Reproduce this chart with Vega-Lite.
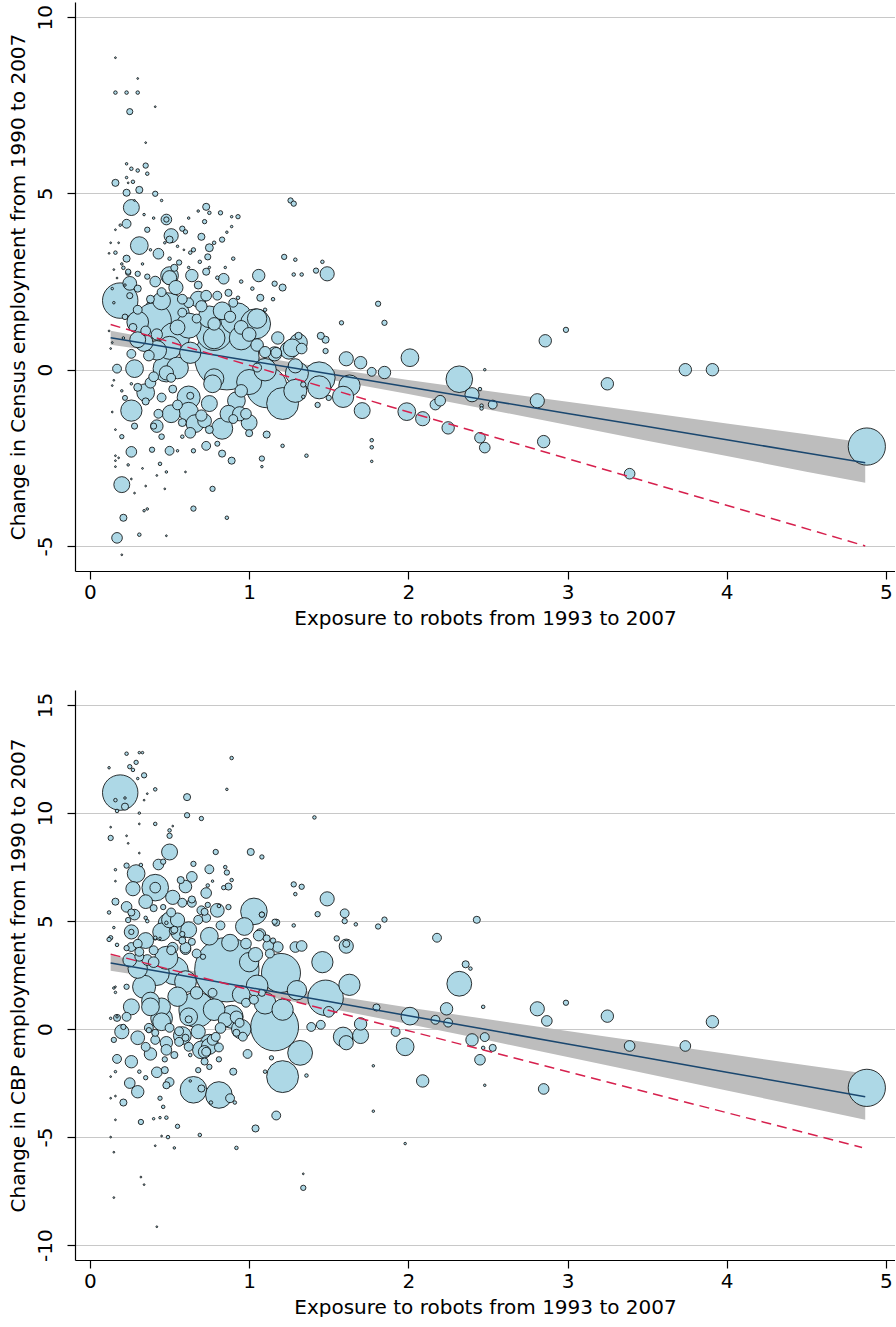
{
"$schema":"https://vega.github.io/schema/vega-lite/v6.json",
"background":"white",
"padding":{"left":8,"top":2,"right":0,"bottom":0},
"spacing":119,
"bounds":"flush",
"config":{
 "view":{"stroke":null},
 "font":"DejaVu Sans",
 "axis":{"domainColor":"black","domainWidth":1.2,"tickColor":"black","tickWidth":1.2,"tickSize":8,
  "labelFont":"DejaVu Sans","labelFontSize":20,"labelColor":"black","labelOverlap":false,"labelFlush":false,
  "titleFont":"DejaVu Sans","titleFontSize":20,"titleFontWeight":"normal","titleColor":"black",
  "gridColor":"#c8c8c8","gridWidth":1.2},
 "axisX":{"grid":false,"labelPadding":3,"titlePadding":6,"format":"d"},
 "axisY":{"grid":true,"labelAngle":-90,"labelAlign":"center","labelBaseline":"bottom","labelPadding":12,"titlePadding":7}
},
"datasets":{
"census":[
{"x":0.86,"y":0.34,"w":1320},{"x":0.19,"y":1.96,"w":400},{"x":0.48,"y":1.53,"w":676},{"x":0.40,"y":1.39,"w":400},{"x":0.53,"y":0.91,"w":289},{"x":0.63,"y":0.48,"w":144},{"x":1.11,"y":-0.5,"w":529},{"x":1.21,"y":-0.96,"w":324},{"x":0.92,"y":1.45,"w":324},{"x":0.83,"y":1.67,"w":100},{"x":1.04,"y":1.3,"w":289},{"x":1.16,"y":0.45,"w":64},{"x":1.29,"y":0.11,"w":64},{"x":0.62,"y":-0.79,"w":169},{"x":0.75,"y":-0.96,"w":81},{"x":0.63,"y":-0.74,"w":16},{"x":0.83,"y":-1.67,"w":144},{"x":0.28,"y":0.03,"w":100},{"x":0.26,"y":-1.16,"w":144},{"x":0.20,"y":-3.26,"w":81},{"x":0.17,"y":-4.77,"w":36},{"x":0.21,"y":-4.2,"w":16},{"x":0.17,"y":0.03,"w":25},{"x":0.31,"y":3.52,"w":100},{"x":0.26,"y":4.6,"w":81},{"x":0.25,"y":7.32,"w":12},{"x":0.16,"y":5.3,"w":16},{"x":0.48,"y":4.26,"w":36},{"x":0.48,"y":4.26,"w":9},{"x":0.51,"y":3.8,"w":64},{"x":0.43,"y":3.29,"w":36},{"x":0.23,"y":4.14,"w":25},{"x":0.41,"y":2.5,"w":36},{"x":0.50,"y":2.61,"w":64},{"x":0.54,"y":2.33,"w":64},{"x":0.64,"y":2.67,"w":49},{"x":0.84,"y":2.58,"w":36},{"x":1.06,"y":2.67,"w":49},{"x":1.49,"y":2.72,"w":64},{"x":0.73,"y":4.62,"w":16},{"x":0.70,"y":3.77,"w":16},{"x":0.75,"y":3.46,"w":20},{"x":0.74,"y":3.2,"w":12},{"x":1.26,"y":4.8,"w":9},{"x":1.28,"y":4.71,"w":9},{"x":0.23,"y":3.15,"w":16},{"x":0.24,"y":2.75,"w":9},{"x":0.30,"y":2.72,"w":9},{"x":0.36,"y":2.64,"w":9},{"x":0.87,"y":2.18,"w":16},{"x":1.07,"y":2.04,"w":16},{"x":1.21,"y":2.33,"w":16},{"x":1.16,"y":2.44,"w":9},{"x":1.22,"y":3.2,"w":9},{"x":1.29,"y":3.12,"w":4},{"x":1.42,"y":2.81,"w":9},{"x":1.46,"y":3.06,"w":4},{"x":1.28,"y":2.7,"w":4},{"x":1.33,"y":2.7,"w":4},{"x":0.31,"y":5.1,"w":16},{"x":0.23,"y":5.02,"w":16},{"x":0.41,"y":4.99,"w":9},{"x":0.35,"y":5.79,"w":9},{"x":0.26,"y":5.7,"w":4},{"x":0.30,"y":5.65,"w":4},{"x":0.36,"y":5.56,"w":4},{"x":0.23,"y":5.84,"w":2},{"x":0.27,"y":5.33,"w":4},{"x":0.23,"y":5.45,"w":2},{"x":0.16,"y":7.86,"w":4},{"x":0.23,"y":7.86,"w":4},{"x":0.30,"y":7.86,"w":4},{"x":0.16,"y":8.85,"w":1},{"x":0.30,"y":8.26,"w":1},{"x":0.41,"y":7.46,"w":1},{"x":0.35,"y":6.44,"w":1},{"x":0.36,"y":3.97,"w":9},{"x":0.58,"y":4.0,"w":9},{"x":0.60,"y":3.91,"w":6},{"x":0.50,"y":3.69,"w":16},{"x":0.75,"y":4.45,"w":4},{"x":0.72,"y":4.2,"w":6},{"x":0.82,"y":4.45,"w":6},{"x":0.93,"y":4.34,"w":6},{"x":0.89,"y":4.34,"w":2},{"x":0.89,"y":4.06,"w":2},{"x":0.83,"y":3.69,"w":9},{"x":0.65,"y":3.4,"w":6},{"x":0.63,"y":3.32,"w":4},{"x":0.59,"y":3.4,"w":1},{"x":0.50,"y":3.15,"w":4},{"x":0.90,"y":3.15,"w":4},{"x":0.69,"y":3.06,"w":4},{"x":0.73,"y":2.78,"w":16},{"x":0.80,"y":2.61,"w":4},{"x":0.93,"y":2.04,"w":4},{"x":0.16,"y":3.32,"w":4},{"x":0.13,"y":3.6,"w":1},{"x":0.15,"y":2.84,"w":1},{"x":0.21,"y":2.89,"w":4},{"x":0.24,"y":2.78,"w":9},{"x":0.53,"y":2.89,"w":16},{"x":0.56,"y":3.04,"w":9},{"x":0.16,"y":3.97,"w":1},{"x":0.73,"y":2.1,"w":36},{"x":0.58,"y":1.62,"w":25},{"x":0.67,"y":1.45,"w":25},{"x":1.31,"y":0.96,"w":16},{"x":1.33,"y":0.6,"w":36},{"x":1.17,"y":0.48,"w":36},{"x":0.37,"y":0.4,"w":36},{"x":0.26,"y":0.45,"w":25},{"x":0.38,"y":-0.37,"w":36},{"x":0.48,"y":-0.09,"w":64},{"x":0.45,"y":-0.79,"w":25},{"x":0.51,"y":-0.23,"w":25},{"x":0.92,"y":-0.88,"w":100},{"x":0.98,"y":-1.25,"w":36},{"x":0.43,"y":-1.25,"w":25},{"x":1.05,"y":0.06,"w":25},{"x":0.51,"y":-1.25,"w":100},{"x":0.73,"y":-2.16,"w":25},{"x":0.63,"y":-1.79,"w":36},{"x":0.50,"y":-2.3,"w":25},{"x":0.26,"y":-2.33,"w":36},{"x":0.39,"y":-2.27,"w":9},{"x":0.44,"y":-2.67,"w":4},{"x":0.89,"y":-2.58,"w":16},{"x":0.83,"y":-2.38,"w":16},{"x":1.11,"y":-1.84,"w":16},{"x":1.21,"y":-2.16,"w":4},{"x":1.08,"y":-2.52,"w":9},{"x":0.77,"y":-3.38,"w":9},{"x":0.65,"y":-3.94,"w":9},{"x":0.86,"y":-4.2,"w":4},{"x":0.31,"y":-4.68,"w":4},{"x":0.48,"y":-4.71,"w":1},{"x":0.20,"y":-5.25,"w":1},{"x":0.16,"y":-2.75,"w":1},{"x":0.16,"y":-2.58,"w":1},{"x":0.16,"y":-2.44,"w":1},{"x":0.24,"y":-2.7,"w":2},{"x":0.26,"y":-3.1,"w":1},{"x":0.28,"y":-3.5,"w":1},{"x":0.34,"y":-4.0,"w":2},{"x":0.36,"y":-3.95,"w":2},{"x":0.47,"y":-3.38,"w":1},{"x":0.14,"y":0.77,"w":1},{"x":0.14,"y":-0.45,"w":1},
{"x":1.81,"y":1.87,"w":9},{"x":1.85,"y":1.33,"w":9},{"x":1.58,"y":1.33,"w":6},{"x":2.01,"y":0.34,"w":100},{"x":2.86,"y":0.82,"w":49},{"x":2.99,"y":1.13,"w":9},{"x":2.48,"y":0.0,"w":2},{"x":2.32,"y":-0.27,"w":225},{"x":2.40,"y":-0.71,"w":64},{"x":1.99,"y":-1.19,"w":100},{"x":2.09,"y":-1.39,"w":64},{"x":2.17,"y":-0.99,"w":36},{"x":2.20,"y":-0.88,"w":36},{"x":2.25,"y":-1.65,"w":49},{"x":2.45,"y":-1.93,"w":36},{"x":2.48,"y":-2.21,"w":36},{"x":2.46,"y":-1.02,"w":4},{"x":2.46,"y":-1.1,"w":4},{"x":2.53,"y":-0.99,"w":25},{"x":2.45,"y":-0.55,"w":4},{"x":2.81,"y":-0.88,"w":64},{"x":2.85,"y":-2.04,"w":49},{"x":3.39,"y":-2.95,"w":36},{"x":3.25,"y":-0.40,"w":49},{"x":3.74,"y":0.0,"w":49},{"x":3.91,"y":0.0,"w":49},{"x":4.88,"y":-2.18,"w":441},{"x":1.70,"y":0.2,"w":49},{"x":1.61,"y":0.31,"w":64},{"x":1.71,"y":-1.16,"w":81},{"x":1.63,"y":-0.45,"w":144},{"x":1.59,"y":-0.77,"w":144},{"x":1.44,"y":-0.23,"w":324},{"x":1.30,"y":-0.1,"w":169},{"x":1.77,"y":-0.06,"w":25},{"x":1.85,"y":-0.08,"w":49},{"x":1.77,"y":-2.0,"w":4},{"x":1.77,"y":-2.2,"w":4},{"x":1.77,"y":-2.6,"w":2},{"x":1.48,"y":0.85,"w":16},{"x":1.45,"y":0.96,"w":16},{"x":1.48,"y":0.53,"w":9},{"x":1.50,"y":-0.8,"w":9},{"x":1.43,"y":-1.0,"w":9},{"x":1.34,"y":-0.42,"w":9},{"x":1.34,"y":-0.77,"w":4},{"x":1.36,"y":-2.44,"w":4},{"x":1.08,"y":-2.75,"w":2},
{"x":1.18,"y":0.9,"w":49},{"x":0.62,"y":1.9,"w":30},{"x":0.70,"y":1.8,"w":40},{"x":0.78,"y":1.3,"w":50},{"x":0.90,"y":1.9,"w":25},{"x":0.95,"y":1.2,"w":60},{"x":0.55,"y":1.2,"w":70},{"x":0.42,"y":1.0,"w":40},{"x":0.35,"y":1.1,"w":30},{"x":0.30,"y":1.7,"w":25},{"x":0.27,"y":1.2,"w":20},{"x":0.22,"y":1.5,"w":10},{"x":0.25,"y":2.1,"w":12},{"x":0.30,"y":2.3,"w":16},{"x":0.38,"y":2.0,"w":20},{"x":0.45,"y":2.2,"w":25},{"x":0.58,"y":2.0,"w":30},{"x":0.68,"y":2.4,"w":20},{"x":0.80,"y":2.1,"w":25},{"x":0.88,"y":1.5,"w":40},{"x":1.00,"y":1.0,"w":60},{"x":1.05,"y":0.7,"w":50},{"x":1.10,"y":0.5,"w":40},{"x":0.30,"y":-0.5,"w":20},{"x":0.35,"y":-0.9,"w":16},{"x":0.40,"y":-1.6,"w":12},{"x":0.55,"y":-1.0,"w":30},{"x":0.58,"y":-1.5,"w":20},{"x":0.70,"y":-1.3,"w":40},{"x":0.75,"y":-1.7,"w":20},{"x":0.90,"y":-1.4,"w":25},{"x":0.95,"y":-0.6,"w":50},{"x":1.00,"y":-1.8,"w":16},{"x":0.28,"y":-1.6,"w":12},{"x":0.22,"y":-0.8,"w":8},{"x":0.20,"y":-1.9,"w":6},{"x":0.45,"y":-1.9,"w":10},{"x":0.65,"y":-2.3,"w":6},{"x":0.80,"y":-2.1,"w":8},{"x":0.52,"y":-0.55,"w":20},{"x":0.40,"y":-0.2,"w":30},
{"x":0.30,"y":1.35,"w":150},{"x":0.62,"y":1.25,"w":200},{"x":0.75,"y":1.5,"w":150},{"x":0.95,"y":0.9,"w":180},{"x":1.05,"y":1.45,"w":120},{"x":0.42,"y":0.55,"w":120},{"x":0.55,"y":0.05,"w":150},{"x":0.35,"y":-0.65,"w":100},{"x":0.62,"y":-1.2,"w":120},{"x":1.00,"y":-0.35,"w":200},{"x":1.10,"y":0.0,"w":160},{"x":0.78,"y":0.9,"w":150},{"x":0.45,"y":1.95,"w":100},{"x":0.68,"y":2.0,"w":80},{"x":0.25,"y":2.45,"w":60},{"x":1.25,"y":0.55,"w":100},{"x":0.30,"y":0.85,"w":80},{"x":0.78,"y":-0.25,"w":120},{"x":0.42,"y":-1.6,"w":50},{"x":0.72,"y":-1.45,"w":60},{"x":1.00,"y":-1.5,"w":80},{"x":0.87,"y":-1.25,"w":90},
{"x":0.78,"y":1.05,"w":400},{"x":0.48,"y":0.03,"w":225},{"x":0.50,"y":0.62,"w":169},{"x":0.34,"y":0.77,"w":100},{"x":0.77,"y":-0.4,"w":100},{"x":1.31,"y":0.77,"w":100},{"x":0.66,"y":-1.53,"w":100},{"x":1.44,"y":-0.5,"w":169},{"x":1.29,"y":-0.6,"w":169},{"x":0.94,"y":-1.25,"w":64},{"x":0.50,"y":2.67,"w":100},{"x":1.27,"y":0.62,"w":100},
{"x":0.12,"y":1.1,"w":1},{"x":0.13,"y":0.6,"w":1},{"x":0.14,"y":2.3,"w":2},{"x":0.15,"y":1.9,"w":2},{"x":0.17,"y":2.6,"w":1},{"x":0.12,"y":3.3,"w":1},{"x":0.18,"y":3.6,"w":1},{"x":0.19,"y":4.1,"w":2},{"x":0.20,"y":3.0,"w":2},{"x":0.22,"y":2.4,"w":2},{"x":0.14,"y":-1.2,"w":1},{"x":0.16,"y":-1.7,"w":1},{"x":0.18,"y":-2.5,"w":1},{"x":0.15,"y":-0.3,"w":1},{"x":0.20,"y":-0.6,"w":2},{"x":0.21,"y":0.9,"w":2},{"x":0.26,"y":-0.4,"w":2},{"x":0.33,"y":-2.8,"w":1},{"x":0.35,"y":-3.3,"w":1},{"x":0.42,"y":-3.0,"w":1},{"x":0.48,"y":-2.9,"w":2},{"x":0.55,"y":-2.3,"w":2},{"x":0.60,"y":-2.9,"w":1},{"x":0.58,"y":-1.9,"w":4},{"x":0.34,"y":4.4,"w":2},{"x":0.40,"y":4.3,"w":2},{"x":0.45,"y":4.8,"w":2},{"x":0.28,"y":4.8,"w":1},{"x":0.24,"y":5.3,"w":1},{"x":0.33,"y":3.0,"w":2},{"x":0.38,"y":3.4,"w":2},{"x":0.47,"y":3.6,"w":2},{"x":0.55,"y":3.5,"w":2},{"x":0.62,"y":4.3,"w":2},{"x":0.68,"y":4.5,"w":2},{"x":0.62,"y":2.9,"w":2},{"x":0.75,"y":2.9,"w":2},{"x":0.85,"y":2.9,"w":2},{"x":0.95,"y":2.5,"w":4},{"x":1.02,"y":2.3,"w":4},{"x":1.10,"y":1.7,"w":4},{"x":1.15,"y":2.0,"w":4},{"x":0.78,"y":3.6,"w":4},{"x":0.86,"y":3.9,"w":2}
],
"cbp":[
{"x":0.86,"y":2.75,"w":1320},{"x":0.19,"y":10.95,"w":400},{"x":0.16,"y":10.6,"w":4},{"x":0.22,"y":10.3,"w":16},{"x":0.17,"y":10.1,"w":4},{"x":0.22,"y":10.7,"w":2},{"x":0.12,"y":12.1,"w":2},{"x":0.23,"y":12.75,"w":4},{"x":0.25,"y":12.15,"w":6},{"x":0.27,"y":12.0,"w":4},{"x":0.29,"y":12.35,"w":6},{"x":0.31,"y":12.8,"w":2},{"x":0.33,"y":12.8,"w":2},{"x":0.34,"y":11.75,"w":9},{"x":0.30,"y":11.6,"w":2},{"x":0.41,"y":11.1,"w":4},{"x":0.36,"y":10.9,"w":1},{"x":0.34,"y":10.6,"w":1},{"x":0.61,"y":10.74,"w":16},{"x":0.61,"y":9.9,"w":9},{"x":0.70,"y":9.75,"w":6},{"x":0.89,"y":12.55,"w":4},{"x":0.86,"y":11.1,"w":2},{"x":0.31,"y":10.0,"w":2},{"x":0.41,"y":9.5,"w":4},{"x":0.31,"y":9.5,"w":1},{"x":0.13,"y":8.85,"w":9},{"x":0.13,"y":9.35,"w":1},{"x":0.23,"y":8.95,"w":1},{"x":0.24,"y":8.6,"w":1},{"x":0.50,"y":8.95,"w":9},{"x":0.50,"y":9.2,"w":4},{"x":0.52,"y":9.4,"w":1},{"x":0.31,"y":8.15,"w":1},{"x":0.50,"y":8.2,"w":81},{"x":0.79,"y":8.2,"w":9},{"x":1.01,"y":8.2,"w":16},{"x":1.08,"y":7.97,"w":6},{"x":0.16,"y":7.38,"w":2},{"x":0.23,"y":7.57,"w":9},{"x":0.29,"y":7.2,"w":100},{"x":0.32,"y":7.6,"w":4},{"x":0.43,"y":7.62,"w":36},{"x":0.46,"y":7.75,"w":9},{"x":0.65,"y":7.65,"w":9},{"x":0.64,"y":7.05,"w":36},{"x":0.75,"y":7.4,"w":25},{"x":0.85,"y":7.5,"w":4},{"x":0.86,"y":7.25,"w":9},{"x":0.89,"y":6.9,"w":4},{"x":0.87,"y":6.6,"w":16},{"x":0.84,"y":6.55,"w":6},{"x":0.77,"y":6.85,"w":2},{"x":0.74,"y":6.65,"w":4},{"x":0.73,"y":6.3,"w":36},{"x":0.57,"y":6.9,"w":16},{"x":0.41,"y":6.55,"w":225},{"x":0.41,"y":6.55,"w":36},{"x":0.27,"y":6.5,"w":64},{"x":0.16,"y":5.9,"w":16},{"x":0.16,"y":6.85,"w":1},{"x":0.52,"y":6.1,"w":64},{"x":0.58,"y":5.85,"w":25},{"x":0.64,"y":6.0,"w":16},{"x":0.40,"y":5.6,"w":16},{"x":0.46,"y":5.65,"w":9},{"x":0.51,"y":5.4,"w":25},{"x":0.70,"y":5.5,"w":25},{"x":0.73,"y":5.15,"w":25},{"x":0.74,"y":5.75,"w":9},{"x":0.81,"y":5.7,"w":4},{"x":0.87,"y":5.65,"w":9},{"x":0.26,"y":5.4,"w":16},{"x":0.28,"y":5.3,"w":36},{"x":0.24,"y":5.05,"w":9},{"x":0.35,"y":5.15,"w":4},{"x":0.36,"y":5.0,"w":4},{"x":0.49,"y":4.9,"w":120},{"x":0.52,"y":4.55,"w":16},{"x":0.55,"y":5.05,"w":64},{"x":0.26,"y":4.5,"w":64},{"x":0.26,"y":4.5,"w":9},{"x":0.13,"y":4.23,"w":6},{"x":0.15,"y":4.7,"w":2},{"x":0.17,"y":3.9,"w":4},{"x":0.41,"y":4.2,"w":4},{"x":0.44,"y":4.2,"w":2},{"x":0.53,"y":4.6,"w":16},{"x":0.58,"y":4.4,"w":9},{"x":0.82,"y":4.8,"w":25},{"x":0.97,"y":4.75,"w":100},{"x":1.03,"y":5.45,"w":225},{"x":1.08,"y":5.3,"w":9},{"x":1.07,"y":4.4,"w":36},{"x":1.11,"y":4.2,"w":16},{"x":1.16,"y":4.97,"w":9},{"x":1.15,"y":4.1,"w":9},{"x":1.18,"y":3.8,"w":36},{"x":1.28,"y":6.7,"w":9},{"x":1.29,"y":6.25,"w":4},{"x":1.28,"y":4.8,"w":4},{"x":1.29,"y":3.8,"w":36},{"x":0.60,"y":3.7,"w":36},{"x":0.67,"y":3.5,"w":25},{"x":0.71,"y":3.35,"w":9},{"x":1.04,"y":3.45,"w":64},{"x":1.13,"y":3.5,"w":25},{"x":0.40,"y":3.65,"w":25},{"x":0.51,"y":3.65,"w":25},{"x":0.31,"y":3.35,"w":25},{"x":0.23,"y":3.75,"w":9},{"x":0.53,"y":2.7,"w":250},{"x":0.34,"y":1.96,"w":169},{"x":0.26,"y":1.03,"w":81},{"x":0.20,"y":-0.12,"w":64},{"x":0.17,"y":0.52,"w":16},{"x":0.15,"y":-0.5,"w":9},{"x":0.37,"y":-0.05,"w":9},{"x":0.67,"y":0.9,"w":400},{"x":1.20,"y":2.6,"w":484},{"x":1.16,"y":0.1,"w":729},{"x":1.21,"y":0.9,"w":144},{"x":0.38,"y":-1.15,"w":49},{"x":0.17,"y":-1.38,"w":25},{"x":0.26,"y":-1.51,"w":49},{"x":0.25,"y":-2.5,"w":36},{"x":0.30,"y":-2.9,"w":49},{"x":0.21,"y":-3.4,"w":16},{"x":0.32,"y":-4.3,"w":9},{"x":0.49,"y":-5.0,"w":4},{"x":0.53,"y":-5.5,"w":2},{"x":0.41,"y":-5.4,"w":1},{"x":0.15,"y":-5.7,"w":1},{"x":0.13,"y":-5.0,"w":1},{"x":0.16,"y":-4.2,"w":1},{"x":0.32,"y":-6.85,"w":1},{"x":0.34,"y":-7.2,"w":1},{"x":0.15,"y":-7.8,"w":1},{"x":0.42,"y":-9.15,"w":1},{"x":0.40,"y":-4.15,"w":2},{"x":0.44,"y":-4.1,"w":2},{"x":0.48,"y":-4.1,"w":4},{"x":0.55,"y":-4.5,"w":6},{"x":0.45,"y":-4.95,"w":1},{"x":0.69,"y":-4.9,"w":4},{"x":0.92,"y":-5.5,"w":4},{"x":0.65,"y":-2.81,"w":225},{"x":0.81,"y":-3.05,"w":225},{"x":0.70,"y":-2.75,"w":16},{"x":0.88,"y":-3.2,"w":25},{"x":0.91,"y":-3.4,"w":4},{"x":0.76,"y":-3.4,"w":4},{"x":1.04,"y":-4.6,"w":16},{"x":1.17,"y":-4.0,"w":25},{"x":1.21,"y":-2.2,"w":324},{"x":1.32,"y":-1.1,"w":196},{"x":0.99,"y":-1.15,"w":25},{"x":0.90,"y":-1.97,"w":16},{"x":1.14,"y":-1.33,"w":6},{"x":1.10,"y":-1.97,"w":4},{"x":1.36,"y":-2.15,"w":4},{"x":1.39,"y":0.1,"w":25},{"x":1.33,"y":3.85,"w":36},{"x":0.96,"y":-0.35,"w":25},{"x":0.92,"y":0.55,"w":49},{"x":0.82,"y":0.05,"w":36},{"x":0.77,"y":-0.5,"w":36},{"x":0.72,"y":-1.05,"w":49},{"x":0.72,"y":-1.5,"w":16},{"x":0.75,"y":-1.75,"w":9},{"x":0.68,"y":-1.9,"w":9},{"x":0.81,"y":-1.4,"w":9},{"x":0.81,"y":-0.85,"w":25},{"x":0.62,"y":0.45,"w":16},{"x":0.56,"y":-0.1,"w":25},{"x":0.60,"y":-0.4,"w":16},{"x":0.48,"y":-0.63,"w":49},{"x":0.41,"y":-0.5,"w":25},{"x":0.53,"y":-1.2,"w":16},{"x":0.47,"y":-1.4,"w":9},{"x":0.47,"y":-1.9,"w":16},{"x":0.50,"y":-2.45,"w":25},{"x":0.48,"y":-2.6,"w":16},{"x":0.44,"y":-3.2,"w":6},{"x":0.46,"y":-3.6,"w":4},{"x":0.35,"y":-2.25,"w":6},{"x":0.31,"y":-1.97,"w":4},{"x":0.16,"y":-1.97,"w":2},{"x":0.13,"y":-2.2,"w":1},{"x":0.13,"y":-3.2,"w":1},{"x":0.16,"y":-3.1,"w":1},{"x":0.13,"y":0.5,"w":2},{"x":0.15,"y":1.9,"w":2},{"x":0.16,"y":1.7,"w":2},{"x":0.12,"y":4.15,"w":6},{"x":0.63,"y":-2.4,"w":2},{"x":0.63,"y":-1.2,"w":4},
{"x":0.23,"y":5.66,"w":36},{"x":0.12,"y":5.4,"w":4},{"x":0.26,"y":3.8,"w":25},{"x":0.30,"y":3.95,"w":25},{"x":0.31,"y":3.58,"w":25},{"x":0.36,"y":3.2,"w":36},{"x":0.40,"y":3.1,"w":36},{"x":0.41,"y":4.23,"w":4},{"x":0.48,"y":4.92,"w":4},{"x":0.52,"y":3.77,"w":36},{"x":0.60,"y":3.77,"w":36},{"x":0.58,"y":4.1,"w":16},{"x":0.64,"y":4.04,"w":16},{"x":0.23,"y":1.96,"w":9},{"x":0.16,"y":1.96,"w":1},{"x":0.23,"y":0.57,"w":25},{"x":0.21,"y":0.1,"w":9},{"x":0.17,"y":0.57,"w":2},{"x":0.45,"y":1.03,"w":100},{"x":0.41,"y":-0.17,"w":16},{"x":0.37,"y":0.06,"w":25},{"x":0.35,"y":-0.82,"w":25},{"x":0.50,"y":0.06,"w":25},{"x":0.56,"y":-0.59,"w":25},{"x":0.48,"y":-0.96,"w":36},{"x":0.62,"y":-0.82,"w":25},{"x":0.68,"y":-0.12,"w":64},{"x":0.73,"y":-1.05,"w":25},{"x":0.79,"y":-0.36,"w":25},{"x":0.85,"y":0.43,"w":64},{"x":0.92,"y":-0.17,"w":16},{"x":0.94,"y":0.29,"w":25},{"x":0.98,"y":1.22,"w":25},{"x":1.03,"y":1.36,"w":25},{"x":1.08,"y":1.68,"w":16},{"x":0.67,"y":1.68,"w":49},{"x":0.77,"y":1.68,"w":25},{"x":0.62,"y":0.57,"w":100},{"x":0.98,"y":3.96,"w":36},{"x":1.06,"y":4.33,"w":36},{"x":1.12,"y":3.86,"w":36},{"x":1.33,"y":6.59,"w":9},{"x":0.56,"y":4.46,"w":81},{"x":0.50,"y":5.06,"w":81},{"x":0.64,"y":5.85,"w":25},{"x":0.68,"y":5.06,"w":25},{"x":0.72,"y":5.43,"w":16},{"x":1.17,"y":4.93,"w":16},{"x":1.08,"y":5.3,"w":9},
{"x":0.42,"y":2.6,"w":200},{"x":0.30,"y":2.8,"w":120},{"x":0.60,"y":2.2,"w":150},{"x":0.45,"y":0.5,"w":150},{"x":0.55,"y":1.5,"w":120},{"x":0.38,"y":1.3,"w":100},{"x":0.78,"y":0.9,"w":150},{"x":0.95,"y":1.6,"w":100},{"x":1.05,"y":2.0,"w":150},{"x":0.95,"y":0.0,"w":120},{"x":0.35,"y":4.1,"w":80},{"x":0.45,"y":4.5,"w":100},{"x":0.62,"y":4.6,"w":80},{"x":0.75,"y":4.3,"w":100},{"x":0.88,"y":4.0,"w":90},{"x":1.00,"y":3.1,"w":120},{"x":0.25,"y":3.2,"w":60},{"x":0.58,"y":-0.3,"w":100},{"x":0.75,"y":-0.8,"w":80},{"x":0.30,"y":-0.4,"w":60},{"x":0.35,"y":5.9,"w":60},{"x":0.80,"y":5.5,"w":60},{"x":0.60,"y":6.6,"w":50},{"x":1.10,"y":1.2,"w":150},{"x":1.30,"y":1.8,"w":120},{"x":0.42,"y":-2.0,"w":36},
{"x":0.89,"y":0.57,"w":169},{"x":0.38,"y":1.03,"w":100},{"x":0.45,"y":0.34,"w":100},{"x":0.75,"y":-0.65,"w":100},{"x":0.70,"y":-0.96,"w":100},{"x":0.48,"y":3.3,"w":169},
{"x":1.49,"y":6.03,"w":64},{"x":1.43,"y":5.32,"w":9},{"x":1.60,"y":5.36,"w":25},{"x":1.60,"y":5.0,"w":9},{"x":1.41,"y":9.8,"w":4},{"x":1.85,"y":5.07,"w":9},{"x":1.81,"y":4.75,"w":9},{"x":2.18,"y":4.23,"w":25},{"x":2.43,"y":5.06,"w":16},{"x":2.36,"y":3.0,"w":16},{"x":2.39,"y":2.8,"w":4},{"x":2.32,"y":2.1,"w":196},{"x":2.47,"y":1.03,"w":4},{"x":2.01,"y":0.6,"w":100},{"x":1.98,"y":-0.82,"w":100},{"x":1.92,"y":-0.13,"w":25},{"x":2.17,"y":0.43,"w":25},{"x":2.24,"y":0.94,"w":49},{"x":2.25,"y":0.3,"w":25},{"x":2.40,"y":-0.5,"w":49},{"x":2.48,"y":-0.37,"w":25},{"x":2.47,"y":-0.87,"w":4},{"x":2.53,"y":-0.87,"w":16},{"x":2.45,"y":-1.42,"w":36},{"x":2.09,"y":-2.4,"w":49},{"x":2.48,"y":-2.6,"w":2},{"x":2.85,"y":-2.77,"w":36},{"x":2.81,"y":0.94,"w":64},{"x":2.87,"y":0.38,"w":36},{"x":2.99,"y":1.22,"w":9},{"x":3.25,"y":0.6,"w":49},{"x":3.39,"y":-0.78,"w":36},{"x":3.74,"y":-0.78,"w":36},{"x":3.91,"y":0.34,"w":49},{"x":4.88,"y":-2.72,"w":441},{"x":1.80,"y":1.0,"w":16},{"x":1.78,"y":-1.7,"w":2},{"x":1.78,"y":-3.8,"w":2},{"x":1.98,"y":-5.3,"w":2},{"x":1.34,"y":-6.7,"w":1},{"x":1.34,"y":-7.35,"w":9},{"x":1.70,"y":-0.3,"w":81},{"x":1.70,"y":0.24,"w":49},{"x":1.59,"y":-0.36,"w":121},{"x":1.61,"y":-0.63,"w":64},{"x":1.63,"y":2.05,"w":144},{"x":1.61,"y":3.84,"w":64},{"x":1.61,"y":3.95,"w":16},{"x":1.46,"y":3.1,"w":144},{"x":1.48,"y":1.45,"w":400},{"x":1.50,"y":0.8,"w":36},{"x":1.45,"y":0.2,"w":25},{"x":1.55,"y":4.2,"w":9},{"x":1.67,"y":4.85,"w":4}
],
"fitCensus":[
{"x":0.13,"fit":0.907,"lo":0.711,"hi":1.103},{"x":0.5,"fit":0.630,"lo":0.470,"hi":0.790},{"x":1.0,"fit":0.256,"lo":0.112,"hi":0.400},{"x":1.5,"fit":-0.118,"lo":-0.279,"hi":0.043},{"x":2.0,"fit":-0.492,"lo":-0.692,"hi":-0.292},{"x":2.5,"fit":-0.866,"lo":-1.126,"hi":-0.606},{"x":3.0,"fit":-1.240,"lo":-1.570,"hi":-0.910},{"x":3.5,"fit":-1.614,"lo":-2.014,"hi":-1.214},{"x":4.0,"fit":-1.988,"lo":-2.448,"hi":-1.528},{"x":4.5,"fit":-2.362,"lo":-2.892,"hi":-1.832},{"x":4.87,"fit":-2.639,"lo":-3.209,"hi":-2.069}
],
"fitCbp":[
{"x":0.13,"fit":3.065,"lo":2.705,"hi":3.425},{"x":0.5,"fit":2.581,"lo":2.275,"hi":2.887},{"x":1.0,"fit":1.928,"lo":1.653,"hi":2.203},{"x":1.5,"fit":1.274,"lo":0.968,"hi":1.580},{"x":2.0,"fit":0.621,"lo":0.238,"hi":1.004},{"x":2.5,"fit":-0.033,"lo":-0.519,"hi":0.453},{"x":3.0,"fit":-0.686,"lo":-1.287,"hi":-0.085},{"x":3.5,"fit":-1.340,"lo":-2.062,"hi":-0.618},{"x":4.0,"fit":-1.993,"lo":-2.840,"hi":-1.146},{"x":4.5,"fit":-2.647,"lo":-3.622,"hi":-1.672},{"x":4.87,"fit":-3.130,"lo":-4.200,"hi":-2.060}
],
"refCensus":[{"x":0.13,"y":1.28},{"x":4.87,"y":-5.0}],
"refCbp":[{"x":0.13,"y":3.47},{"x":4.85,"y":-5.48}]
},
"vconcat":[
{
 "width":820,"height":569,
 "layer":[
  {"data":{"name":"fitCensus"},"mark":{"type":"area","color":"#bdbdbd","opacity":1},
   "encoding":{
    "x":{"field":"x","type":"quantitative","scale":{"domain":[-0.094,5.057],"nice":false,"zero":false},"axis":{"title":"Exposure to robots from 1993 to 2007","values":[0,1,2,3,4,5]}},
    "y":{"field":"lo","type":"quantitative","scale":{"domain":[-5.71,10.43],"nice":false,"zero":false},"axis":{"title":"Change in Census employment from 1990 to 2007","values":[-5,0,5,10],"labelExpr":"'' + datum.value"}},
    "y2":{"field":"hi"}}},
  {"data":{"name":"census"},"mark":{"type":"circle","fill":"#add8e6","stroke":"black","strokeWidth":0.8,"opacity":1},
   "encoding":{
    "x":{"field":"x","type":"quantitative","title":"Exposure to robots from 1993 to 2007"},
    "y":{"field":"y","type":"quantitative","title":"Change in Census employment from 1990 to 2007"},
    "size":{"field":"w","type":"quantitative","scale":{"type":"linear","domain":[0,1000],"range":[0,3141.6],"zero":true},"legend":null},
    "order":{"field":"w","type":"quantitative","sort":"descending"}}},
  {"data":{"name":"fitCensus"},"mark":{"type":"line","color":"#1a476f","strokeWidth":1.5},
   "encoding":{"x":{"field":"x","type":"quantitative","title":"Exposure to robots from 1993 to 2007"},"y":{"field":"fit","type":"quantitative","title":"Change in Census employment from 1990 to 2007"}}},
  {"data":{"name":"refCensus"},"mark":{"type":"line","color":"#d6204d","strokeWidth":1.5,"strokeDash":[10,6]},
   "encoding":{"x":{"field":"x","type":"quantitative","title":"Exposure to robots from 1993 to 2007"},"y":{"field":"y","type":"quantitative","title":"Change in Census employment from 1990 to 2007"}}}
 ]
},
{
 "width":820,"height":570,
 "layer":[
  {"data":{"name":"fitCbp"},"mark":{"type":"area","color":"#bdbdbd","opacity":1},
   "encoding":{
    "x":{"field":"x","type":"quantitative","scale":{"domain":[-0.094,5.057],"nice":false,"zero":false},"axis":{"title":"Exposure to robots from 1993 to 2007","values":[0,1,2,3,4,5]}},
    "y":{"field":"lo","type":"quantitative","scale":{"domain":[-10.69,15.7],"nice":false,"zero":false},"axis":{"title":"Change in CBP employment from 1990 to 2007","values":[-10,-5,0,5,10,15],"labelExpr":"'' + datum.value"}},
    "y2":{"field":"hi"}}},
  {"data":{"name":"cbp"},"mark":{"type":"circle","fill":"#add8e6","stroke":"black","strokeWidth":0.8,"opacity":1},
   "encoding":{
    "x":{"field":"x","type":"quantitative","title":"Exposure to robots from 1993 to 2007"},
    "y":{"field":"y","type":"quantitative","title":"Change in CBP employment from 1990 to 2007"},
    "size":{"field":"w","type":"quantitative","scale":{"type":"linear","domain":[0,1000],"range":[0,3141.6],"zero":true},"legend":null},
    "order":{"field":"w","type":"quantitative","sort":"descending"}}},
  {"data":{"name":"fitCbp"},"mark":{"type":"line","color":"#1a476f","strokeWidth":1.5},
   "encoding":{"x":{"field":"x","type":"quantitative","title":"Exposure to robots from 1993 to 2007"},"y":{"field":"fit","type":"quantitative","title":"Change in CBP employment from 1990 to 2007"}}},
  {"data":{"name":"refCbp"},"mark":{"type":"line","color":"#d6204d","strokeWidth":1.5,"strokeDash":[10,6]},
   "encoding":{"x":{"field":"x","type":"quantitative","title":"Exposure to robots from 1993 to 2007"},"y":{"field":"y","type":"quantitative","title":"Change in CBP employment from 1990 to 2007"}}}
 ]
}
]
}
